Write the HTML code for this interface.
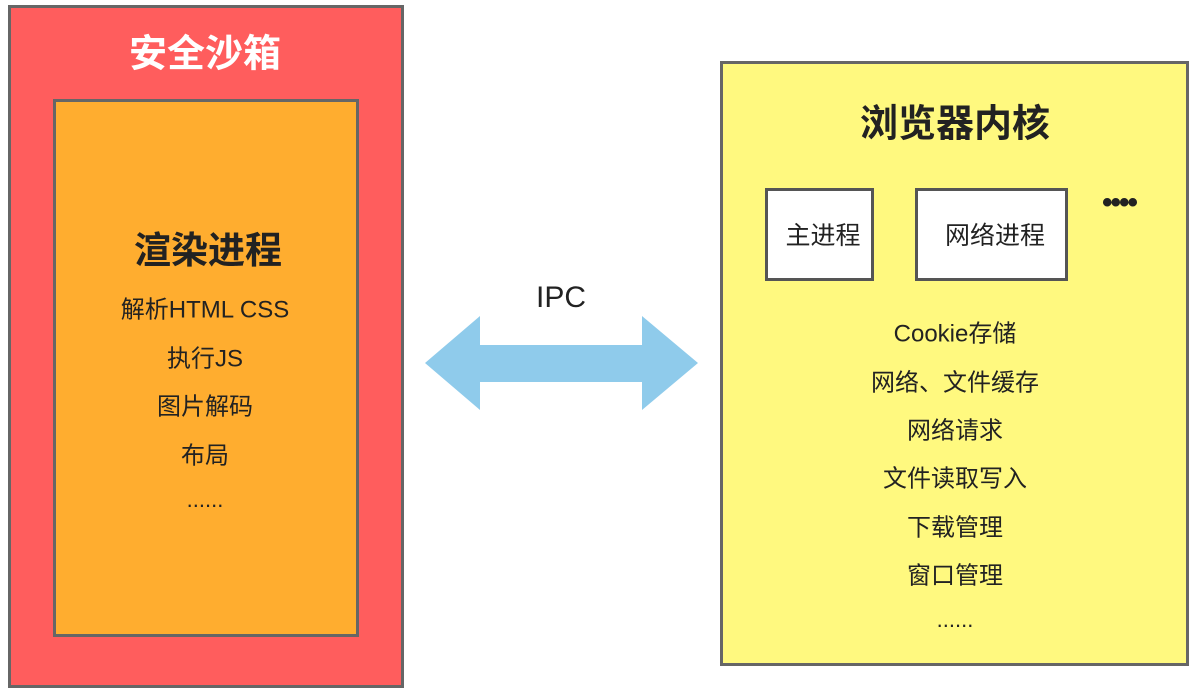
<!DOCTYPE html>
<html><head><meta charset="utf-8"><style>
body{margin:0;width:1200px;height:692px;background:#fff;position:relative;overflow:hidden;font-family:"Liberation Sans","Noto Sans CJK SC",sans-serif;}
.a{position:absolute;box-sizing:border-box;}
.t{position:absolute;white-space:nowrap;transform:translate(-50%,-50%);color:#222;}
</style></head><body>
<div class="a" style="left:8px;top:5px;width:396px;height:683px;background:#ff5d5d;border:3px solid #666;"></div>
<div class="a" style="left:53px;top:99px;width:306px;height:538px;background:#ffad2f;border:3px solid #666;"></div>
<div class="t" style="left:205px;top:50px;font-size:38px;font-weight:bold;color:#fff;">安全沙箱</div>
<div class="t" style="left:208px;top:247px;font-size:37px;font-weight:bold;">渲染进程</div>
<div class="t" style="left:205px;top:307px;font-size:24px;">解析HTML CSS</div>
<div class="t" style="left:205px;top:356px;font-size:24px;">执行JS</div>
<div class="t" style="left:205px;top:404px;font-size:24px;">图片解码</div>
<div class="t" style="left:205px;top:453px;font-size:24px;">布局</div>
<div class="t" style="left:205px;top:500px;font-size:22px;">......</div>

<svg class="a" style="left:0;top:0" width="1200" height="692"><polygon points="425,363 480,316 480,345 642,345 642,316 698,363 642,410 642,382 480,382 480,410" fill="#8fcbeb"/></svg>
<div class="t" style="left:561px;top:298px;font-size:30px;">IPC</div>

<div class="a" style="left:720px;top:61px;width:469px;height:605px;background:#fff97f;border:3px solid #666;"></div>
<div class="t" style="left:955px;top:120px;font-size:38px;font-weight:bold;">浏览器内核</div>
<div class="a" style="left:765px;top:188px;width:109px;height:93px;background:#fff;border:3px solid #555;"></div>
<div class="a" style="left:915px;top:188px;width:153px;height:93px;background:#fff;border:3px solid #555;"></div>
<div class="t" style="left:823px;top:234px;font-size:25px;">主进程</div>
<div class="t" style="left:995px;top:234px;font-size:25px;">网络进程</div>
<div class="t" style="left:1119px;top:203px;font-size:30px;font-weight:bold;letter-spacing:-2px;">••••</div>
<div class="t" style="left:955px;top:331px;font-size:24px;">Cookie存储</div>
<div class="t" style="left:955px;top:380px;font-size:24px;">网络、文件缓存</div>
<div class="t" style="left:955px;top:428px;font-size:24px;">网络请求</div>
<div class="t" style="left:955px;top:476px;font-size:24px;">文件读取写入</div>
<div class="t" style="left:955px;top:525px;font-size:24px;">下载管理</div>
<div class="t" style="left:955px;top:573px;font-size:24px;">窗口管理</div>
<div class="t" style="left:955px;top:620px;font-size:22px;">......</div>
</body></html>
